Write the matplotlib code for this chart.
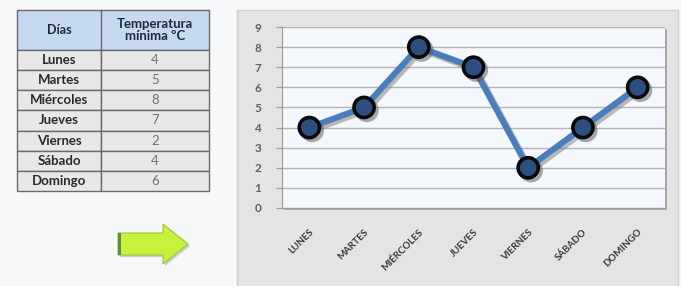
import matplotlib
matplotlib.use("Agg")
import matplotlib.pyplot as plt
from matplotlib.patches import Rectangle, Polygon
import matplotlib.patheffects as pe

# ---- data ----
days = ["Lunes", "Martes", "Miércoles", "Jueves", "Viernes", "Sábado", "Domingo"]
temps = [4, 5, 8, 7, 2, 4, 6]
axis_labels = ["LUNES", "MARTES", "MIÉRCOLES", "JUEVES", "VIERNES", "SÁBADO", "DOMINGO"]
header = ["Días", "Temperatura\nmínima ºC"]
yticks = list(range(0, 10))

plt.rcParams['font.family'] = ['Lato', 'DejaVu Sans']

W, H = 681, 286
fig = plt.figure(figsize=(W / 100, H / 100), dpi=100)
fig.patch.set_facecolor('#f7f8fa')

bg = fig.add_axes([0, 0, 1, 1])
bg.set_xlim(0, W)
bg.set_ylim(H, 0)
bg.axis('off')

# ---- table ----
tx0, tx1, tx2 = 17, 101, 209
ty_head0, ty_head1 = 10, 50
row_h = (191 - 50) / len(days)
bg.add_patch(Rectangle((tx0, ty_head0), tx2 - tx0, ty_head1 - ty_head0,
                       facecolor='#c6d9f0', edgecolor='#6a6a6a', lw=1.0))
bg.plot([tx1, tx1], [ty_head0, ty_head1], color='#6a6a6a', lw=1.0)
bg.text((tx0 + tx1) / 2, (ty_head0 + ty_head1) / 2, header[0], ha='center', va='center',
        fontsize=9, fontweight='bold', color='#1c2a40')
bg.text((tx1 + tx2) / 2, (ty_head0 + ty_head1) / 2, header[1], ha='center', va='center',
        fontsize=9.5, fontweight='bold', color='#1c2a40', linespacing=1.05)
for i, (d, t) in enumerate(zip(days, temps)):
    y0 = ty_head1 + i * row_h
    bg.add_patch(Rectangle((tx0, y0), tx1 - tx0, row_h, facecolor='#e8e8e8',
                           edgecolor='#6a6a6a', lw=1.0))
    bg.add_patch(Rectangle((tx1, y0), tx2 - tx1, row_h, facecolor='#e8e8e8',
                           edgecolor='#6a6a6a', lw=1.0))
    bg.text((tx0 + tx1) / 2, y0 + row_h / 2, d, ha='center', va='center',
            fontsize=9.5, fontweight='bold', color='#2a2a2a')
    bg.text((tx1 + tx2) / 2, y0 + row_h / 2, str(t), ha='center', va='center',
            fontsize=9.5, color='#707070')

# ---- arrow ----
arrow_pts = [(118, 233), (163, 233), (163, 224), (188, 244), (163, 264), (163, 255), (118, 255)]
shadow_pts = [(x + 2, y + 2) for x, y in arrow_pts]
bg.add_patch(Polygon(shadow_pts, closed=True, facecolor='#c8cfc0', edgecolor='none'))
bg.add_patch(Polygon(arrow_pts, closed=True, facecolor='#c6f23e', edgecolor='#9cc433', lw=0.8))
bg.add_patch(Rectangle((118, 233), 3, 22, facecolor='#5e8c48', edgecolor='none'))

# ---- chart panel ----
bg.add_patch(Rectangle((237, 10), 441, 280, facecolor='#e4e4e4', edgecolor='#cfcfcf', lw=1.0))
# plot-area shadow
px0, px1, py0, py1 = 282, 665, 27, 208
bg.add_patch(Rectangle((px0 + 2, py0 + 2), px1 - px0, py1 - py0, facecolor='#a9a9a9',
                       edgecolor='none'))

ax = fig.add_axes([px0 / W, (H - py1) / H, (px1 - px0) / W, (py1 - py0) / H])
ax.set_facecolor('#f4f7fb')
x = list(range(len(temps)))
ax.plot(x, temps, color='#4a7ebb', lw=4.4, solid_joinstyle='miter', zorder=3,
        path_effects=[pe.SimpleLineShadow(offset=(2, -2), shadow_color='#7a7a7a', alpha=0.5),
                      pe.Normal()])
ax.plot(x, temps, linestyle='none', marker='o', markersize=14.5, markerfacecolor='#2d4f80',
        markeredgecolor='#0a0a0a', markeredgewidth=2.6, zorder=4,
        path_effects=[pe.SimpleLineShadow(offset=(2, -2), shadow_color='#555555', alpha=0.5),
                      pe.Normal()])
ax.set_xlim(-0.5, len(temps) - 0.5)
ax.set_ylim(0, 9)
ax.set_yticks(yticks)
ax.yaxis.grid(True, color='#b5b5b5', lw=1.0)
ax.set_axisbelow(True)
ax.set_xticks(x)
ax.set_xticklabels(axis_labels, rotation=45, ha='right', va='top', rotation_mode='anchor',
                   fontsize=7, fontweight='bold', color='#3a3a3a')
ax.tick_params(axis='x', length=0, pad=14)
ax.tick_params(axis='y', length=4, color='#9a9a9a', labelsize=8.5, labelcolor='#606060', pad=11)
for lab in ax.get_yticklabels():
    lab.set_fontweight('bold')
for s in ['top', 'right']:
    ax.spines[s].set_visible(False)
ax.spines['left'].set_color('#9a9a9a')
ax.spines['bottom'].set_color('#9a9a9a')

fig.savefig('out.png', dpi=100, facecolor=fig.get_facecolor())
